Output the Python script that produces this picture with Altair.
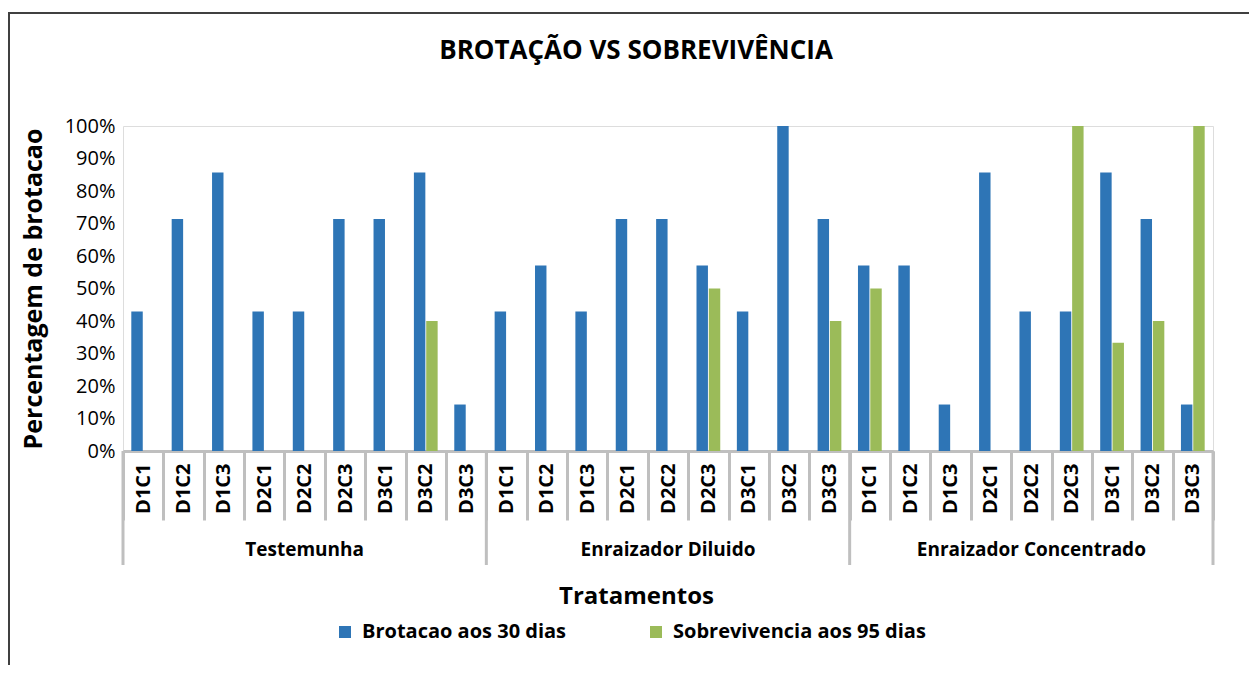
import altair as alt
import pandas as pd

# ---- data ----
groups = ["Testemunha", "Enraizador Diluido", "Enraizador Concentrado"]
treatments = ["D1C1", "D1C2", "D1C3", "D2C1", "D2C2", "D2C3", "D3C1", "D3C2", "D3C3"]
series = ["Brotacao aos 30 dias", "Sobrevivencia  aos 95 dias"]

brotacao_testemunha = [42.9, 71.4, 85.7, 42.9, 42.9, 71.4, 71.4, 85.7, 14.3]
brotacao_diluido = [42.9, 57.1, 42.9, 71.4, 71.4, 57.1, 42.9, 100.0, 71.4]
brotacao_concentrado = [57.1, 57.1, 14.3, 85.7, 42.9, 42.9, 85.7, 71.4, 14.3]

sobrev_testemunha = [0, 0, 0, 0, 0, 0, 0, 40.0, 0]
sobrev_diluido = [0, 0, 0, 0, 0, 50.0, 0, 0, 40.0]
sobrev_concentrado = [50.0, 0, 0, 0, 0, 100.0, 33.3, 40.0, 100.0]

y_ticks = [0, 10, 20, 30, 40, 50, 60, 70, 80, 90, 100]

BLUE = "#2E75B6"
GREEN = "#9BBB59"
FONT = "Open Sans"

# ---- build tables ----
brot = [brotacao_testemunha, brotacao_diluido, brotacao_concentrado]
sobr = [sobrev_testemunha, sobrev_diluido, sobrev_concentrado]
keys = [f"{g}|{t}" for g in groups for t in treatments]

rows = []
for gi, g in enumerate(groups):
    for ti, t in enumerate(treatments):
        k = f"{g}|{t}"
        rows.append({"key": k, "series": series[0], "value": brot[gi][ti]})
        rows.append({"key": k, "series": series[1], "value": sobr[gi][ti]})
df = pd.DataFrame(rows)

group_starts = pd.DataFrame({"key": [f"{g}|{treatments[0]}" for g in groups]})
group_end = pd.DataFrame({"key": [f"{groups[-1]}|{treatments[-1]}"]})
group_mid = pd.DataFrame({"key": [f"{g}|{treatments[4]}" for g in groups], "group": groups})
frame_df = pd.DataFrame({"a": [0]})

W, H = 1090, 325

x_scale = alt.Scale(domain=keys, paddingInner=0, paddingOuter=0)
x_axis = alt.Axis(
    labelExpr="split(datum.value, '|')[1]",
    labelAngle=270,
    labelAlign="right",
    labelBaseline="middle",
    labelFont=FONT,
    labelFontSize=20,
    labelFontWeight="bold",
    labelColor="black",
    labelPadding=-57,
    labelOverlap=False,
    tickBand="extent",
    tickSize=69,
    tickWidth=3,
    tickColor="#BFBFBF",
    domainColor="#BFBFBF",
    domainWidth=3,
    grid=False,
    title="Tratamentos",
    titleFont=FONT,
    titleFontSize=24,
    titleFontWeight="bold",
    titleColor="black",
    titleX=513,
    titleY=145,
    titleAlign="center",
    titleBaseline="middle",
)

bars = alt.Chart(df).mark_bar().encode(
    x=alt.X("key:N", scale=x_scale, axis=x_axis),
    xOffset=alt.XOffset("series:N", scale=alt.Scale(domain=series, paddingInner=0.07, paddingOuter=0.675)),
    y=alt.Y(
        "value:Q",
        scale=alt.Scale(domain=[0, 100], nice=False),
        axis=alt.Axis(
            values=y_ticks,
            labelExpr="datum.value + '%'",
            labelFont=FONT,
            labelFontSize=20,
            labelColor="black",
            labelPadding=8,
            ticks=False,
            domain=False,
            grid=False,
            title="Percentagem de brotacao",
            titleFont=FONT,
            titleFontSize=25,
            titleFontWeight="bold",
            titleColor="black",
            titleAngle=270,
            titleX=-90,
            titleY=162.5,
            titleAlign="center",
            titleBaseline="middle",
        ),
    ),
    color=alt.Color(
        "series:N",
        scale=alt.Scale(domain=series, range=[BLUE, GREEN]),
        legend=alt.Legend(
            orient="none",
            legendX=212,
            legendY=496,
            direction="horizontal",
            title=None,
            symbolType="square",
            symbolSize=144,
            symbolStrokeWidth=0,
            symbolOpacity=1,
            labelFont=FONT,
            labelFontSize=20,
            labelFontWeight="bold",
            labelColor="black",
            labelOffset=7,
            labelLimit=400,
            columnPadding=79,
            padding=0,
        ),
    ),
)

start_rules = alt.Chart(group_starts).mark_rule(color="#BFBFBF", strokeWidth=3).encode(
    x=alt.X("key:N", bandPosition=0, scale=x_scale, axis=x_axis),
    y=alt.value(H),
    y2=alt.value(439),
)
end_rule = alt.Chart(group_end).mark_rule(color="#BFBFBF", strokeWidth=3).encode(
    x=alt.X("key:N", bandPosition=1, scale=x_scale, axis=x_axis),
    y=alt.value(H),
    y2=alt.value(439),
)
group_text = alt.Chart(group_mid).mark_text(
    font=FONT, fontSize=19, fontWeight="bold", color="black", baseline="middle", align="center"
).encode(
    x=alt.X("key:N", scale=x_scale, axis=x_axis),
    y=alt.value(424),
    text="group:N",
)
frame = alt.Chart(frame_df).mark_rect(fill="transparent", stroke="#404040", strokeWidth=2).encode(
    x=alt.value(-114), x2=alt.value(1160), y=alt.value(-113), y2=alt.value(620)
)

chart = alt.layer(frame, bars, start_rules, end_rule, group_text).properties(
    width=W,
    height=H,
    autosize=alt.AutoSizeParams(type="none"),
    padding={"left": 115, "top": 118, "right": 36, "bottom": 214},
    title=alt.TitleParams(
        "BROTAÇÃO VS SOBREVIVÊNCIA",
        font=FONT,
        fontSize=26,
        fontWeight="bold",
        color="black",
        anchor="middle",
        frame="group",
        dx=-32,
        offset=-73,
        baseline="alphabetic",
    ),
).configure_view(stroke="#6A9AD6", strokeWidth=1).configure(background="white")

chart.save("out.html", embed_options={"renderer": "svg", "actions": False})
